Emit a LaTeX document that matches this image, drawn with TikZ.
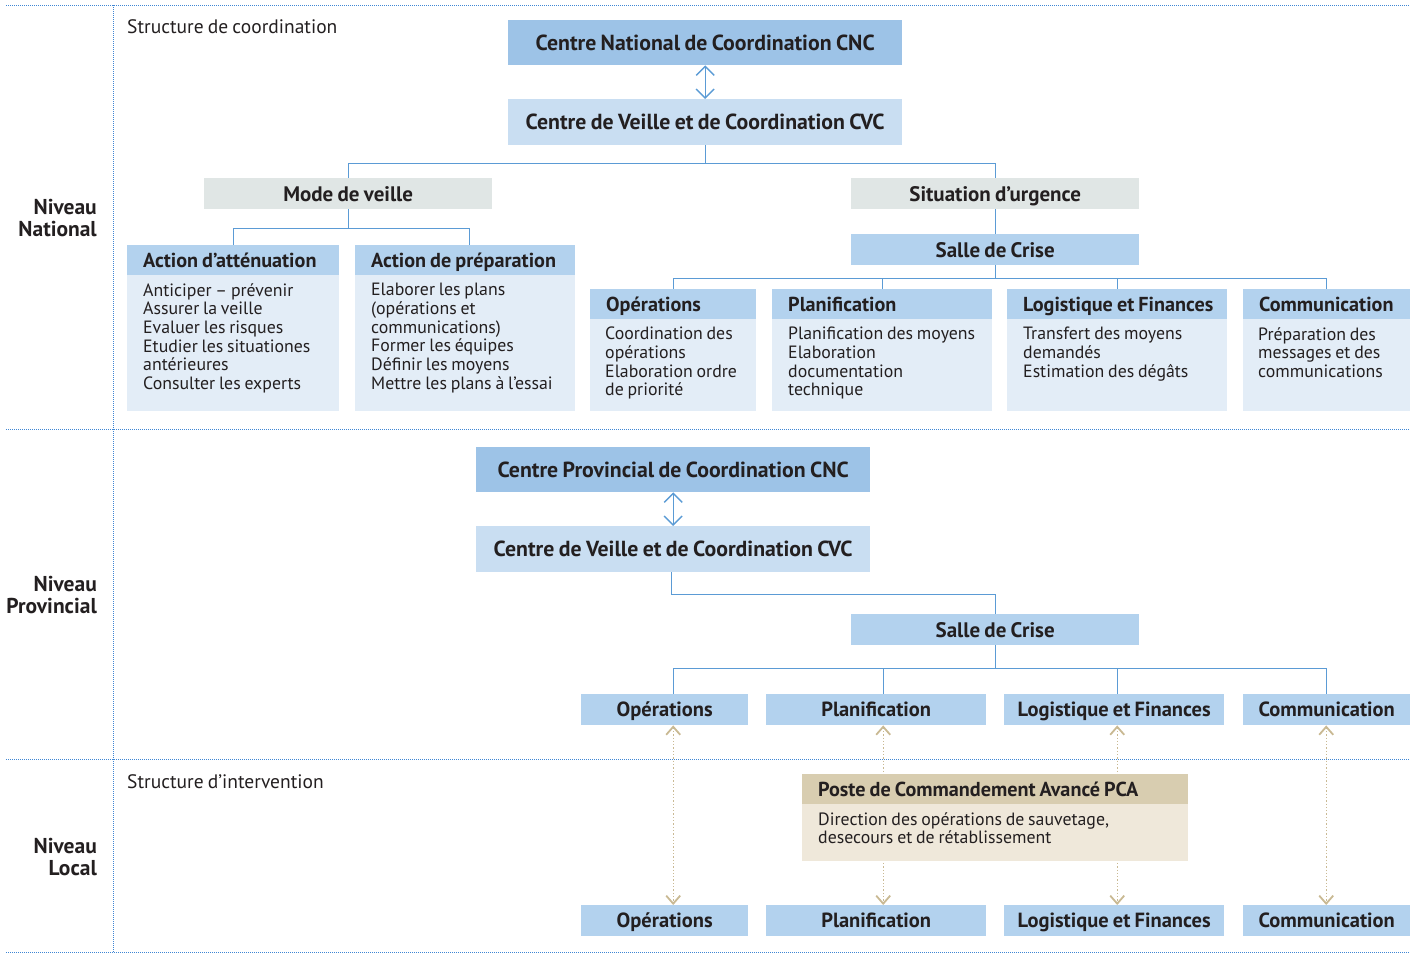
\documentclass[tikz,border=0pt]{standalone}
\usepackage{fontspec}
\setmainfont{PT Sans}[WordSpace=0.8]
\usetikzlibrary{arrows.meta,calc}
\definecolor{txt}{HTML}{231F20}
\definecolor{cncblue}{HTML}{9DC3E7}
\definecolor{cvcblue}{HTML}{C9DEF2}
\definecolor{hdrblue}{HTML}{B3D2EE}
\definecolor{bodyblue}{HTML}{E3EDF7}
\definecolor{greybox}{HTML}{E0E6E5}
\definecolor{linkblue}{HTML}{5B9BD5}
\definecolor{sepblue}{HTML}{3F86D4}
\definecolor{tanhdr}{HTML}{D8CDB0}
\definecolor{tanbody}{HTML}{EFE8DA}
\definecolor{tanline}{HTML}{C9B993}
\newcommand{\hdtext}[2]{\makebox[#1pt][l]{#2}}
\begin{document}
\begin{tikzpicture}[x=1pt,y=-1pt,
  sep/.style={draw=sepblue, line width=1pt, dash pattern=on 1pt off 1pt},
  conn/.style={draw=linkblue, line width=1.4pt},
  dbl/.style={{Straight Barb[length=9pt,width=18pt]}-{Straight Barb[length=9pt,width=18pt]}},
  tanarr/.style={draw=tanline, line width=1.3pt, dash pattern=on 1.3pt off 2pt, {Straight Barb[length=8pt,width=14pt,line width=1.8pt]}-{Straight Barb[length=8pt,width=14pt,line width=1.8pt]}},
  title/.style={anchor=north west, inner sep=0pt, text=txt, font=\bfseries\fontsize{21.8}{24}\selectfont, text height=15.3pt, text depth=0pt, minimum width=394pt, minimum height=45pt},
  mid/.style={anchor=north west, inner sep=0pt, text=txt, font=\bfseries\fontsize{21}{24}\selectfont, text height=14.8pt, text depth=0pt, minimum width=288pt, minimum height=31pt},
  hdr/.style={anchor=north west, inner xsep=16pt, inner ysep=0pt, text=txt, fill=hdrblue, font=\bfseries\fontsize{20.2}{22}\selectfont, text height=14.2pt, text depth=0pt, minimum height=30pt},
  bodyfill/.style={anchor=north west, inner sep=0pt, fill=bodyblue},
  bodytxt/.style={anchor=north west, inner sep=0pt, text=txt, align=left, font=\fontsize{17.8}{18.7}\selectfont},
  small/.style={anchor=north west, inner sep=0pt, text=txt, fill=hdrblue, font=\bfseries\fontsize{20.5}{22}\selectfont, text height=14.4pt, text depth=0pt, minimum height=31pt},
  lvl/.style={anchor=east, inner sep=0pt, text=txt, align=right, font=\bfseries\fontsize{21.5}{22}\selectfont},
  struct/.style={anchor=west, inner sep=0pt, text=txt, font=\fontsize{19.5}{22}\selectfont}
]
\useasboundingbox (0,0) rectangle (1415,964);

% separators
\coordinate (s1a) at (6,5);   \coordinate (s1b) at (1410,5);
\coordinate (s2a) at (6,429); \coordinate (s2b) at (1410,429);
\coordinate (s3a) at (6,759); \coordinate (s3b) at (1410,759);
\coordinate (s4a) at (6,952); \coordinate (s4b) at (1410,952);
\coordinate (v1a) at (113,5); \coordinate (v1b) at (113,952);
\draw[sep] (s1a) -- (s1b);
\draw[sep] (s2a) -- (s2b);
\draw[sep] (s3a) -- (s3b);
\draw[sep] (s4a) -- (s4b);
\draw[sep] (v1a) -- (v1b);

% level labels
\node[lvl] (lnat) at (97,218) {Niveau\\National};
\node[lvl] (lprov) at (97,595) {Niveau\\Provincial};
\node[lvl] (lloc) at (97,857) {Niveau\\Local};
\node[struct] (scoord) at (127,27) {Structure de coordination};
\node[struct] (sinter) at (127,782) {Structure d’intervention};

% ---------- National ----------
\node[title, fill=cncblue] (cnc) at (508,20) {Centre National de Coordination CNC};
\node[title, fill=cvcblue, minimum height=46pt] (cvc) at (508,99) {Centre de Veille et de Coordination CVC};
\node[mid, fill=greybox] (mode) at (204,178) {Mode de veille};
\node[mid, fill=greybox] (urg) at (851,178) {Situation d’urgence};
\node[mid, fill=hdrblue] (salle) at (851,234) {Salle de Crise};

\node[hdr] (aa) at (127,245) {\hdtext{180}{Action d’atténuation}};
\node[bodyfill, minimum width=212pt, minimum height=136pt] (aab) at (127,275) {};
\node[bodytxt] (aat) at (143,283) {Anticiper – prévenir\\Assurer la veille\\Evaluer les risques\\Etudier les situationes\\antérieures\\Consulter les experts};

\node[hdr] (ap) at (355,245) {\hdtext{188}{Action de préparation}};
\node[bodyfill, minimum width=220pt, minimum height=136pt] (apb) at (355,275) {};
\node[bodytxt] (apt) at (371,283) {Elaborer les plans\\(opérations et\\communications)\\Former les équipes\\Définir les moyens\\Mettre les plans à l’essai};

\node[hdr] (ops) at (590,289) {\hdtext{134}{Opérations}};
\node[bodyfill, minimum width=166pt, minimum height=92pt] (opsb) at (590,319) {};
\node[bodytxt] (opst) at (605,327) {Coordination des\\opérations\\Elaboration ordre\\de priorité};

\node[hdr] (plan) at (772,289) {\hdtext{188}{Planification}};
\node[bodyfill, minimum width=220pt, minimum height=92pt] (planb) at (772,319) {};
\node[bodytxt] (plant) at (788,327) {Planification des moyens\\Elaboration\\documentation\\technique};

\node[hdr] (log) at (1007,289) {\hdtext{188}{Logistique et Finances}};
\node[bodyfill, minimum width=220pt, minimum height=92pt] (logb) at (1007,319) {};
\node[bodytxt] (logt) at (1023,327) {Transfert des moyens\\demandés\\Estimation des dégâts};

\node[hdr] (comm) at (1243,289) {\hdtext{135}{Communication}};
\node[bodyfill, minimum width=167pt, minimum height=92pt] (commb) at (1243,319) {};
\node[bodytxt] (commt) at (1258,327) {Préparation des\\messages et des\\communications};

\draw[conn, dbl] (cnc) -- (cvc);
\draw[conn] (cvc.south) -- ++(0,18) -| (mode.north);
\draw[conn] (cvc.south) -- ++(0,18) -| (urg.north);
\draw[conn] (mode.south) -- ++(0,19) -| (aa.north);
\draw[conn] (mode.south) -- ++(0,19) -| ([xshift=4pt]ap.north);
\draw[conn] (urg) -- (salle);
\draw[conn] (salle.south) -- ++(0,13) -| (ops.north);
\draw[conn] (salle.south) -- ++(0,13) -| (plan.north);
\draw[conn] (salle.south) -- ++(0,13) -| (log.north);
\draw[conn] (salle.south) -- ++(0,13) -| (comm.north);

% ---------- Provincial ----------
\node[title, fill=cncblue] (pcnc) at (476,447) {Centre Provincial de Coordination CNC};
\node[title, fill=cvcblue, minimum height=46pt] (pcvc) at (476,526) {Centre de Veille et de Coordination CVC};
\node[mid, fill=hdrblue] (psalle) at (851,614) {Salle de Crise};
\node[small, minimum width=167pt] (pops) at (581,694) {Opérations};
\node[small, minimum width=220pt] (pplan) at (766,694) {Planification};
\node[small, minimum width=220pt] (plog) at (1004,694) {Logistique et Finances};
\node[small, minimum width=167pt] (pcomm) at (1243,694) {Communication};

\draw[conn, dbl] (pcnc) -- (pcvc);
\draw[conn] ([xshift=-2pt]pcvc.south) -- ++(0,22) -| (psalle.north);
\draw[conn] (psalle.south) -- ++(0,23) -| ([xshift=8.5pt]pops.north);
\draw[conn] (psalle.south) -- ++(0,23) -| ([xshift=7pt]pplan.north);
\draw[conn] (psalle.south) -- ++(0,23) -| ([xshift=3pt]plog.north);
\draw[conn] (psalle.south) -- ++(0,23) -| ([xshift=-0.5pt]pcomm.north);

% ---------- Local ----------
\node[small, minimum width=167pt] (lops) at (581,905) {Opérations};
\node[small, minimum width=220pt] (lplan) at (766,905) {Planification};
\node[small, minimum width=220pt] (llog) at (1004,905) {Logistique et Finances};
\node[small, minimum width=167pt] (lcomm) at (1243,905) {Communication};

\draw[tanarr] ([xshift=8.5pt]pops.south) -- ([xshift=8.5pt]lops.north);
\draw[tanarr] ([xshift=7pt]pplan.south) -- ([xshift=7pt]lplan.north);
\draw[tanarr] ([xshift=3pt]plog.south) -- ([xshift=3pt]llog.north);
\draw[tanarr] ([xshift=-0.5pt]pcomm.south) -- ([xshift=-0.5pt]lcomm.north);

\node[hdr, fill=tanhdr] (pca) at (802,774) {\hdtext{354}{Poste de Commandement Avancé PCA}};
\node[bodyfill, fill=tanbody, minimum width=386pt, minimum height=57pt] (pcab) at (802,804) {};
\node[bodytxt] (pcat) at (818,812) {Direction des opérations de sauvetage,\\desecours et de rétablissement};
\end{tikzpicture}
\end{document}
